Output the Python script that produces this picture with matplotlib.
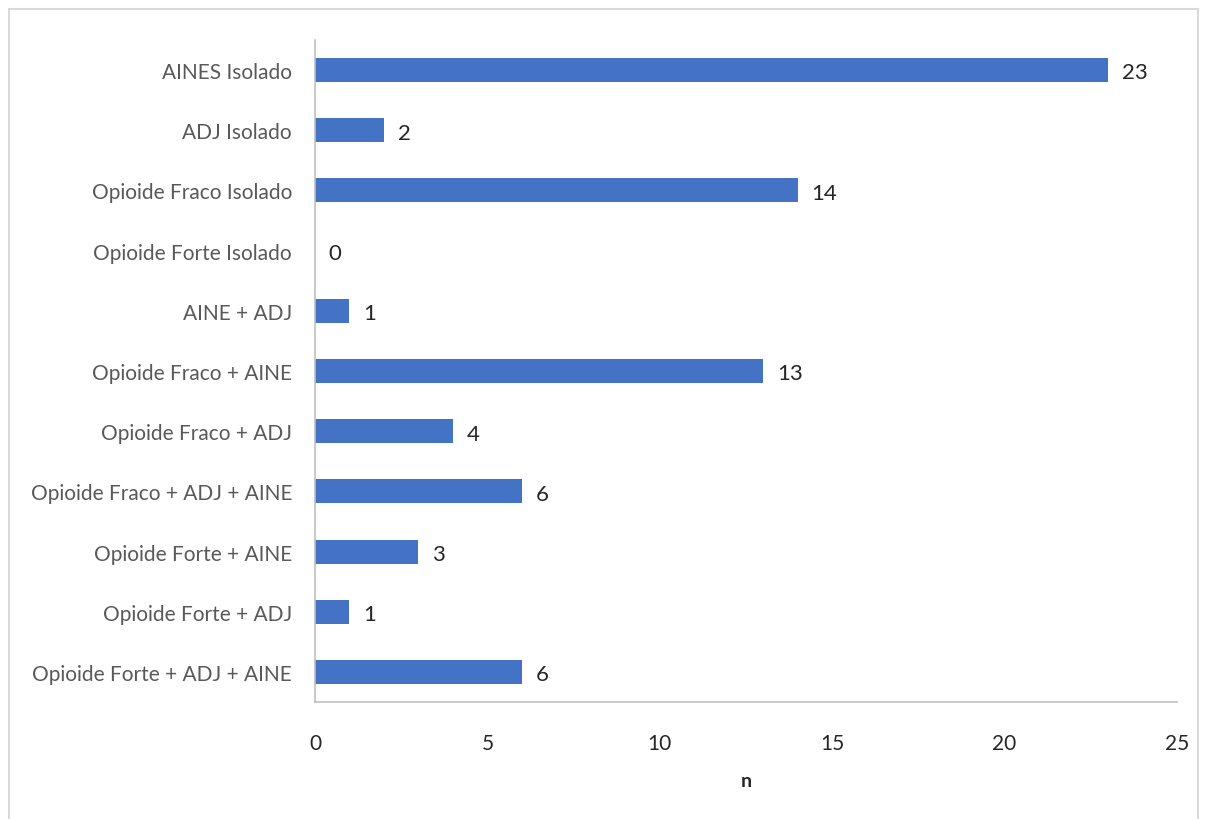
import matplotlib
matplotlib.use("Agg")
import matplotlib.pyplot as plt
from matplotlib.patches import Rectangle

# ── Data ────────────────────────────────────────────────────────────────
categories = [
    "AINES Isolado",
    "ADJ Isolado",
    "Opioide Fraco Isolado",
    "Opioide Forte Isolado",
    "AINE + ADJ",
    "Opioide Fraco + AINE",
    "Opioide Fraco + ADJ",
    "Opioide Fraco + ADJ + AINE",
    "Opioide Forte + AINE",
    "Opioide Forte + ADJ",
    "Opioide Forte + ADJ + AINE",
]
counts = [23, 2, 14, 0, 1, 13, 4, 6, 3, 1, 6]
xticks = [0, 5, 10, 15, 20, 25]

# ── Plot ────────────────────────────────────────────────────────────────
plt.rcParams["font.family"] = ["Lato", "DejaVu Sans"]

fig = plt.figure(figsize=(12.07, 8.2), dpi=100)
ax = fig.add_axes([315 / 1207, 1 - 703 / 820, 862 / 1207, 662 / 820])

pos = list(range(len(categories)))
ax.barh(pos, counts, height=0.4, color="#4472C4")

for p, c in zip(pos, counts):
    ax.text(c + 0.4, p + 0.04, str(c), ha="left", va="center",
            fontsize=16, color="#262626")

ax.set_yticks(pos)
ax.set_yticklabels(categories, fontsize=15, color="#595959")
ax.set_ylim(len(categories) - 0.5, -0.5)
ax.set_xlim(0, 25)
ax.set_xticks(xticks)
ax.set_xticklabels([str(t) for t in xticks], fontsize=15, color="#262626")
ax.tick_params(axis="x", length=0, pad=22)
ax.tick_params(axis="y", length=0, pad=16.5)
ax.set_xlabel("n", fontsize=14, fontweight="bold", color="#262626", labelpad=14)

for s in ["top", "right"]:
    ax.spines[s].set_visible(False)
for s in ["left", "bottom"]:
    ax.spines[s].set_color("#BFBFBF")
    ax.spines[s].set_linewidth(1.2)

# chart-area border
fig.patches.append(Rectangle((9 / 1207, -0.05), 1189 / 1207, 1.05 - 10 / 820,
                             transform=fig.transFigure, fill=False,
                             edgecolor="#D9D9D9", linewidth=1.5))

fig.savefig("out.png", dpi=100)
